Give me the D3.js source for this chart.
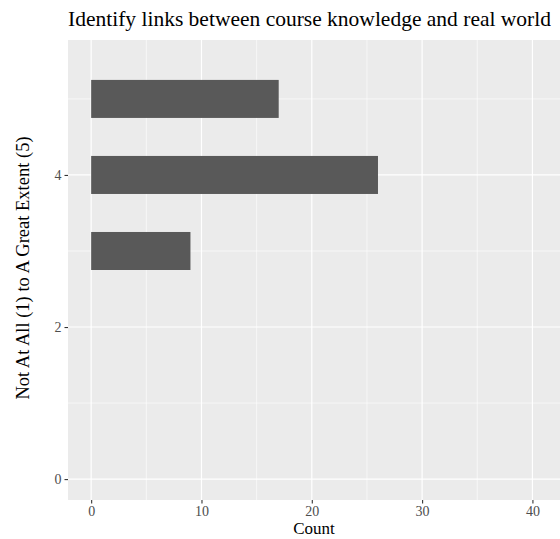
<!DOCTYPE html>
<html>
<head>
<meta charset="utf-8">
<script src="https://cdn.jsdelivr.net/npm/d3@7"></script>
<style>
  body { margin: 0; background: #fff; }
  svg { display: block; font-family: "Liberation Serif", "Times New Roman", serif; }
</style>
</head>
<body>
<div id="chart"></div>
<script>
// data
const ratings = [5, 4, 3];
const counts = [17, 26, 9];
const xTicks = [0, 10, 20, 30, 40];
const xMinor = [5, 15, 25, 35];
const yTicks = [0, 2, 4];
const yMinor = [1, 3, 5];
const title = 'Identify links between course knowledge and real world';

const width = 560;
const height = 539;
const margins = { top: 40, right: 0, bottom: 39, left: 68 };

const svg = d3.select('#chart').append('svg')
    .attr('width', width)
    .attr('height', height);

const x = d3.scaleLinear()
    .domain([-2.1, 42.5])
    .range([margins.left, width - margins.right]);

const y = d3.scaleLinear()
    .domain([-0.275, 5.775])
    .range([height - margins.bottom, margins.top]);

// panel
svg.append('rect')
    .attr('x', margins.left)
    .attr('y', margins.top)
    .attr('width', width - margins.left - margins.right)
    .attr('height', height - margins.top - margins.bottom)
    .attr('fill', '#ebebeb');

const grid = svg.append('g').attr('stroke', '#fff').attr('fill', 'none');

grid.selectAll('.vminor').data(xMinor).join('line')
    .attr('x1', d => x(d)).attr('x2', d => x(d))
    .attr('y1', margins.top).attr('y2', height - margins.bottom)
    .attr('stroke-width', 0.6);
grid.selectAll('.hminor').data(yMinor).join('line')
    .attr('y1', d => y(d)).attr('y2', d => y(d))
    .attr('x1', margins.left).attr('x2', width - margins.right)
    .attr('stroke-width', 0.6);
grid.selectAll('.vmajor').data(xTicks).join('line')
    .attr('x1', d => x(d)).attr('x2', d => x(d))
    .attr('y1', margins.top).attr('y2', height - margins.bottom)
    .attr('stroke-width', 1.2);
grid.selectAll('.hmajor').data(yTicks).join('line')
    .attr('y1', d => y(d)).attr('y2', d => y(d))
    .attr('x1', margins.left).attr('x2', width - margins.right)
    .attr('stroke-width', 1.2);

// bars
svg.append('g')
    .selectAll('rect')
    .data(ratings)
    .join('rect')
    .attr('x', x(0))
    .attr('y', d => y(d + 0.25))
    .attr('width', (d, i) => x(counts[i]) - x(0))
    .attr('height', d => y(d - 0.25) - y(d + 0.25))
    .attr('fill', '#595959');

// axes
const xAxis = svg.append('g')
    .attr('transform', `translate(0,${height - margins.bottom})`)
    .call(d3.axisBottom(x).tickValues(xTicks).tickFormat(d3.format('d')).tickSize(3.5).tickPadding(3));
const yAxis = svg.append('g')
    .attr('transform', `translate(${margins.left},0)`)
    .call(d3.axisLeft(y).tickValues(yTicks).tickFormat(d3.format('d')).tickSize(3.5).tickPadding(3));

[xAxis, yAxis].forEach((g) => {
    g.select('.domain').remove();
    g.selectAll('.tick line').attr('stroke', '#333').attr('stroke-width', 1.1);
    g.selectAll('.tick text')
        .attr('fill', '#4d4d4d')
        .attr('font-size', 14)
        .attr('font-family', '"Liberation Serif", serif');
});

// titles
svg.append('text')
    .attr('x', margins.left)
    .attr('y', 26)
    .attr('font-size', 21.5)
    .attr('fill', '#000')
    .text(title);

svg.append('text')
    .attr('x', (margins.left + width - margins.right) / 2)
    .attr('y', 534)
    .attr('text-anchor', 'middle')
    .attr('font-size', 17)
    .attr('fill', '#000')
    .text('Count');

svg.append('text')
    .attr('transform', `translate(29,${(margins.top + height - margins.bottom) / 2 - 2}) rotate(-90)`)
    .attr('text-anchor', 'middle')
    .attr('font-size', 18.5)
    .attr('fill', '#000')
    .text('Not At All (1) to A Great Extent (5)');
</script>
</body>
</html>
